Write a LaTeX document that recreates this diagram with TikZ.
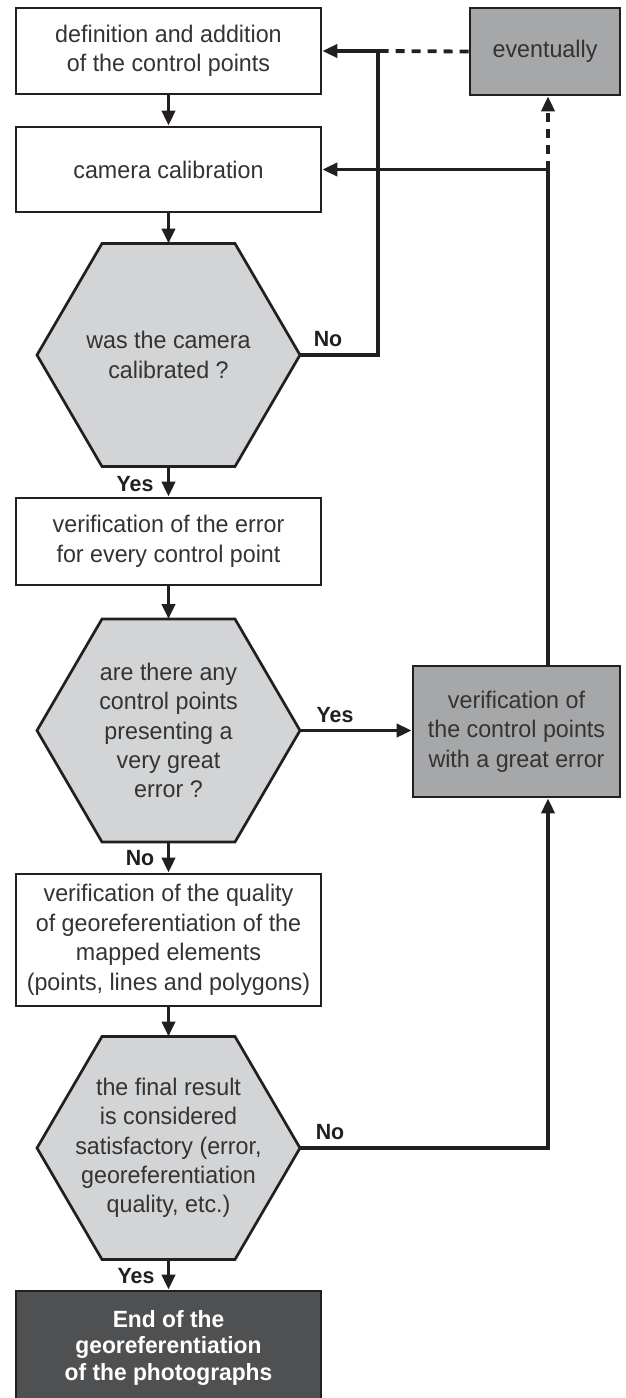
\documentclass[tikz,border=0pt]{standalone}
\usepackage{fontspec}
\setmainfont[FakeStretch=0.97]{Liberation Sans}
\usetikzlibrary{arrows.meta,backgrounds,calc}
\definecolor{linec}{HTML}{231F20}
\definecolor{txtc}{HTML}{333333}
\definecolor{hexc}{HTML}{D3D4D6}
\definecolor{midc}{HTML}{A6A7A9}
\definecolor{darkc}{HTML}{4F5052}
\begin{document}
\begin{tikzpicture}[x=1pt,y=-1pt,
  box/.style={draw=linec, line width=2.7pt, fill=white, text=txtc, align=center,
    minimum width=305pt, inner sep=0pt, font=\fontsize{24}{29.5}\selectfont},
  hexn/.style={minimum width=263pt, minimum height=223pt, inner sep=0pt, outer sep=0pt,
    text=txtc, align=center, font=\fontsize{24}{29.3}\selectfont},
  hexdraw/.style={draw=linec, line width=2.7pt, fill=hexc, line join=miter},
  conn/.style={draw=linec, line width=3.8pt, -{Triangle[length=15pt,width=13pt]}},
  dconn/.style={draw=linec, line width=3.8pt, dash pattern=on 9pt off 7pt},
  lab/.style={font=\bfseries\fontsize{22}{22}\selectfont, text=linec, inner sep=0pt}
]
\useasboundingbox (0,0) rectangle (626,1398);

% main column
\node[box, minimum height=86pt] (b1) at (168.5,51) {definition and addition\\of the control points};
\node[box, minimum height=85pt] (b2) at (168.5,169.5) {camera calibration};
\node[hexn] (h1) at (168.5,355) {was the camera\\calibrated ?};
\node[box, minimum height=87pt] (b3) at (168.5,541.5) {verification of the error\\for every control point};
\node[hexn] (h2) at (168.5,730.5) {are there any\\control points\\presenting a\\very great\\error ?};
\node[box, minimum height=132pt] (b5) at (168.5,940) {verification of the quality\\of georeferentiation of the\\mapped elements\\(points, lines and polygons)};
\node[hexn] (h3) at (168.5,1148) {the final result\\is considered\\satisfactory (error,\\georeferentiation\\quality, etc.)};
\node[box, fill=darkc, text=white, minimum height=113pt,
  font=\bfseries\fontsize{23.5}{26.5}\selectfont] (b6) at (168.5,1347.5) {End of the\\georeferentiation\\of the photographs};

% right column
\node[box, fill=midc, minimum width=150pt, minimum height=87pt] (ev) at (545,51.5) {eventually};
\node[box, fill=midc, minimum width=207pt, minimum height=131pt] (b4) at (516.5,731.5) {verification of\\the control points\\with a great error};

% hexagon outlines
\begin{scope}[on background layer]
\foreach \h in {h1,h2,h3}{
  \path[hexdraw] (\h.west) -- ($(\h.north west)+(65,0)$) -- ($(\h.north east)+(-65,0)$)
    -- (\h.east) -- ($(\h.south east)+(-65,0)$) -- ($(\h.south west)+(65,0)$) -- cycle;
}
\end{scope}

% helper coordinates
\coordinate (k1) at ($(b1.east)+(56,0)$);
\coordinate (k2) at ($(b4.north)+(31.5,0)$);
\coordinate (k3) at ($(b4.south)+(31.5,0)$);

% vertical flow
\draw[conn] (b1.south) -- (b2.north);
\draw[conn] (b2.south) -- (h1.north);
\draw[conn] (h1.south) -- (b3.north);
\draw[conn] (b3.south) -- (h2.north);
\draw[conn] (h2.south) -- (b5.north);
\draw[conn] (b5.south) -- (h3.north);
\draw[conn] (h3.south) -- (b6.north);

% loops
\draw[conn] (h1.east) -| (k1) -- (b1.east);
\draw[dconn] (ev.west) -- (k1);
\draw[conn] (h2.east) -- (h2.east -| b4.west);
\draw[conn] (k2) |- (b2.east);
\draw[dconn, -{Triangle[length=15pt,width=13pt]}] (k2 |- b2.east) -- (k2 |- ev.south);
\draw[conn] (h3.east) -| (k3);

% labels
\node[lab] (l1) at (328,339) {No};
\node[lab] (l2) at (135,484) {Yes};
\node[lab] (l3) at (335,715) {Yes};
\node[lab] (l4) at (140,858) {No};
\node[lab] (l5) at (330,1132) {No};
\node[lab] (l6) at (136,1276) {Yes};
\end{tikzpicture}
\end{document}
